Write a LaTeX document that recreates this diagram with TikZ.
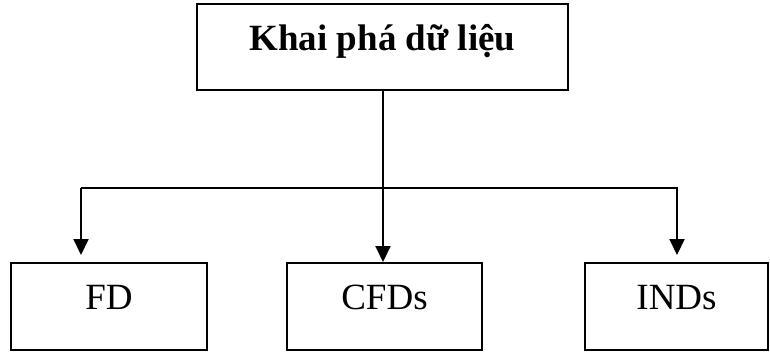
\documentclass[tikz,border=0pt]{standalone}
\usepackage{fontspec}
\setmainfont{Liberation Serif}
\usetikzlibrary{arrows.meta,calc}

\begin{document}
\begin{tikzpicture}[
  x=1pt, y=-1pt,
  box/.style={draw, line width=2pt, inner sep=0pt, minimum height=87pt, text depth=18pt},
  arrow/.style={-{Triangle[length=16pt,width=15pt]}, line width=2pt}
]
\useasboundingbox (0,0) rectangle (770,354);
\node[box, minimum width=371pt, minimum height=86pt, text height=24pt, font=\fontsize{37}{40}\selectfont\bfseries] (dm) at (382.5,47) {Khai phá dữ liệu};
\node[box, minimum width=196pt, text height=24pt, font=\fontsize{37}{40}\selectfont] (fd) at (109,306.5) {FD};
\node[box, minimum width=195pt, text height=24pt, font=\fontsize{37}{40}\selectfont] (cfd) at (384.5,306.5) {CFDs};
\node[box, minimum width=183pt, text height=24pt, font=\fontsize{37}{40}\selectfont] (ind) at (676.5,306.5) {INDs};
% branch line
\coordinate (lft) at (81,188);
\coordinate (rgt) at (677,188);
\draw[arrow] (dm.south -| 383,0) -- (cfd.north -| 383,0);
\draw[arrow, shorten >=7pt] (lft) -- (lft |- fd.north);
\draw[arrow, shorten >=7pt] (lft) -- (rgt) -- (rgt |- ind.north);
\end{tikzpicture}
\end{document}
